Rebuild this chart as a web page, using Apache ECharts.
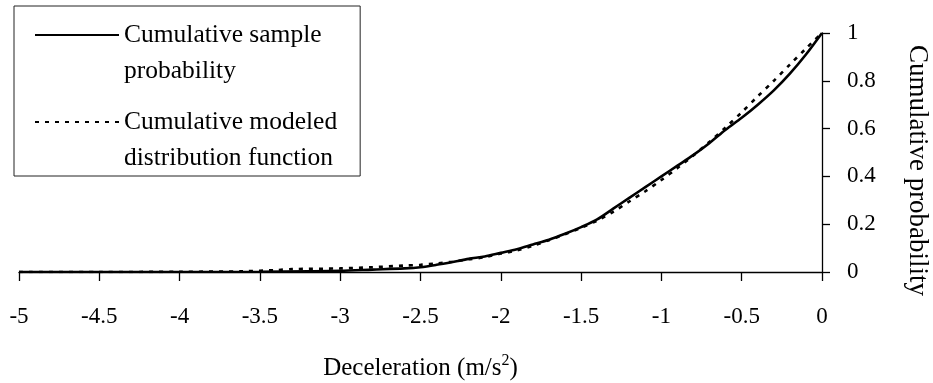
<!DOCTYPE html>
<html><head><meta charset="utf-8">
<script src="https://cdn.jsdelivr.net/npm/echarts@6/dist/echarts.min.js"></script>
<style>html,body{margin:0;padding:0;background:#fff}#c{width:933px;height:383px}</style>
</head><body><div id="c"></div>
<script>
// ---- data ----
const sampleX = [-5, -4.5, -4, -3.5, -3.2, -3.0, -2.8, -2.6, -2.5, -2.4, -2.3, -2.2, -2.1, -2.0, -1.9, -1.8, -1.7, -1.6, -1.5, -1.4, -1.3, -1.2, -1.1, -1.0, -0.9, -0.8, -0.7, -0.6, -0.5, -0.4, -0.3, -0.2, -0.1, 0];
const sampleP = [0, 0, 0, 0.001, 0.003, 0.005, 0.01, 0.015, 0.02, 0.03, 0.042, 0.055, 0.065, 0.08, 0.095, 0.115, 0.135, 0.16, 0.188, 0.22, 0.265, 0.31, 0.355, 0.40, 0.445, 0.49, 0.54, 0.595, 0.645, 0.70, 0.76, 0.83, 0.91, 1.0];
const modelX = [-5, -4.5, -4, -3.6, -3.4, -3.3, -3.0, -2.8, -2.6, -2.5, -2.4, -2.3, -2.2, -2.1, -2.0, -1.9, -1.8, -1.7, -1.6, -1.5, -1.4, -1.3, -1.2, -1.1, -1.0, -0.9, -0.8, -0.7, -0.6, -0.5, -0.4, -0.3, -0.2, -0.1, 0];
const modelP = [0, 0, 0.001, 0.003, 0.008, 0.012, 0.015, 0.02, 0.027, 0.03, 0.036, 0.043, 0.053, 0.062, 0.077, 0.09, 0.11, 0.133, 0.158, 0.185, 0.215, 0.252, 0.295, 0.338, 0.385, 0.435, 0.488, 0.545, 0.605, 0.668, 0.735, 0.80, 0.868, 0.935, 1.0];
const seriesNames = ['Cumulative sample probability', 'Cumulative modeled distribution function'];
const legendLines = [['Cumulative sample', 'probability'], ['Cumulative modeled', 'distribution function']];
const xTitleMain = 'Deceleration (m/s';
const xTitleSup = '2';
const xTitleEnd = ')';
const yTitle = 'Cumulative probability';
const xMin = -5, xMax = 0, xStep = 0.5;
const yMin = 0, yMax = 1, yStep = 0.2;

const FONT = 'Liberation Serif';
const pairs = (xs, ys) => xs.map((x, i) => [x, ys[i]]);

const chart = echarts.init(document.getElementById('c'), null, {renderer: 'canvas'});
chart.setOption({
  animation: false,
  backgroundColor: '#ffffff',
  textStyle: {fontFamily: FONT, color: '#000'},
  grid: {left: 19, right: 111, top: 33, bottom: 111, containLabel: false, outerBoundsMode: 'none'},
  legend: {
    orient: 'vertical',
    left: 14, top: 6,
    padding: [16, 23, 5, 20],
    borderColor: '#222', borderWidth: 1,
    itemWidth: 84, itemHeight: 14, itemGap: 25,
    selectedMode: false,
    data: seriesNames,
    itemStyle: {color: 'transparent', borderWidth: 0, opacity: 0},
    formatter: function (name) {
      const i = seriesNames.indexOf(name);
      return legendLines[i].map(s => '{a|' + s + '}').join('\n');
    },
    textStyle: {
      fontFamily: FONT, fontSize: 25.5, color: '#000',
      padding: [0, 0, -36, 0],
      rich: {a: {fontFamily: FONT, fontSize: 25.5, lineHeight: 36, color: '#000'}}
    }
  },
  xAxis: {
    type: 'value', min: xMin, max: xMax, interval: xStep,
    position: 'bottom',
    axisLine: {onZero: false, lineStyle: {color: '#000', width: 1.3}},
    axisTick: {show: true, length: 9, lineStyle: {color: '#000', width: 1.3}},
    axisLabel: {margin: 33, fontFamily: FONT, fontSize: 23, color: '#000'},
    splitLine: {show: false},
    name: '{a|' + xTitleMain + '}{s|' + xTitleSup + '}{a|' + xTitleEnd + '}',
    nameLocation: 'middle', nameGap: 81,
    nameTextStyle: {
      rich: {
        a: {fontFamily: FONT, fontSize: 25, color: '#000', lineHeight: 30},
        s: {fontFamily: FONT, fontSize: 16, color: '#000', verticalAlign: 'top', lineHeight: 18}
      }
    }
  },
  yAxis: {
    type: 'value', min: yMin, max: yMax, interval: yStep,
    position: 'right',
    axisLine: {show: true, onZero: false, lineStyle: {color: '#000', width: 1.3}},
    axisTick: {show: true, length: 8, lineStyle: {color: '#000', width: 1.3}},
    axisLabel: {margin: 25, fontFamily: FONT, fontSize: 23, color: '#000', align: 'left'},
    splitLine: {show: false},
    name: yTitle,
    nameLocation: 'middle', nameRotate: -90, nameGap: 82,
    nameTextStyle: {fontFamily: FONT, fontSize: 27, color: '#000', padding: [0, 0, 0, 36]}
  },
  series: [
    {
      name: seriesNames[0], type: 'line', data: pairs(sampleX, sampleP),
      symbol: 'none', smooth: 0.3,
      lineStyle: {color: '#000', width: 2.6, type: 'solid'},
      itemStyle: {color: '#000'}, z: 3
    },
    {
      name: seriesNames[1], type: 'line', data: pairs(modelX, modelP),
      symbol: 'none', smooth: 0.3,
      lineStyle: {color: '#000', width: 2.6, type: [4, 6]},
      itemStyle: {color: '#000'}, z: 4
    }
  ]
});
</script>
</body></html>
